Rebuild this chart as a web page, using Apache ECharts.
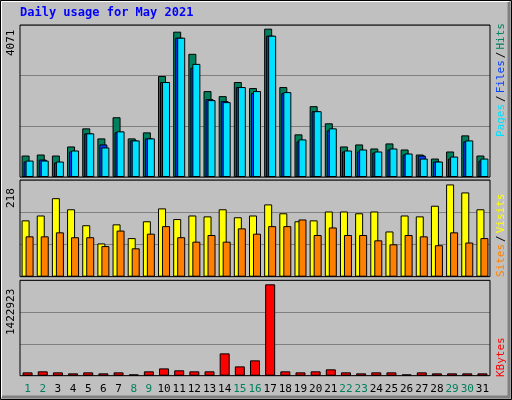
<!DOCTYPE html>
<html><head><meta charset="utf-8">
<script src="https://cdn.jsdelivr.net/npm/echarts@6/dist/echarts.min.js"></script>
<style>html,body{margin:0;padding:0;background:#C0C0C0}#c{width:512px;height:400px}</style>
</head><body><div id="c"></div>
<script>
const days=['1','2','3','4','5','6','7','8','9','10','11','12','13','14','15','16','17','18','19','20','21','22','23','24','25','26','27','28','29','30','31'];
const weekend=['1','2','8','9','15','16','22','23','29','30'];
const hits=[575,602,575,818,1303,1034,1600,1034,1195,2706,3892,3299,2301,2166,2544,2382,3973,2409,1142,1897,1438,818,872,764,899,737,602,494,683,1115,575];
const files=[414,467,387,683,1169,872,1195,980,1034,2544,3731,2922,2086,2032,2409,2248,3785,2248,953,1762,1250,683,683,656,737,602,575,414,494,953,440];
const pages=[440,440,414,710,1169,791,1223,980,1034,2544,3731,3030,2059,2005,2409,2301,3785,2274,1007,1762,1303,710,737,683,764,629,494,414,548,980,494];
const visits=[127,138,177,152,116,75,118,87,125,154,130,138,136,152,134,138,163,143,125,127,147,147,143,147,102,138,136,160,208,190,152];
const sites=[91,91,100,89,89,69,104,64,97,114,89,79,94,79,109,97,114,114,129,94,111,94,94,82,73,94,91,71,100,77,87];
const kbytes=[50000,65000,50000,35000,50000,35000,50000,20000,65000,109000,80000,65000,65000,333000,139000,229000,1363000,65000,50000,65000,95000,50000,35000,50000,50000,20000,50000,35000,35000,35000,35000];
const maxTop=4071, maxMid=218, maxBot=1422923;
const F='DejaVu Sans Mono';
const chart=echarts.init(document.getElementById('c'));
const grids=[{left:20,right:22,top:25,height:152},{left:20,right:22,top:180,height:96.7},{left:20,right:22,top:280.3,height:95.4}];
function xa(i){return {type:'category',gridIndex:i,data:days,axisLine:{show:false},axisTick:{show:false},
 axisLabel:i===2?{show:true,interval:0,hideOverlap:false,fontFamily:F,fontSize:11,margin:8,formatter:v=>weekend.includes(v)?'{g|'+v+'}':'{b|'+v+'}',rich:{g:{color:'#00805C',fontFamily:F,fontSize:11},b:{color:'#000',fontFamily:F,fontSize:11}}}:{show:false}};}
function ya(i,m){return {type:'value',gridIndex:i,min:0,max:m,interval:m/3,axisLabel:{show:false},axisLine:{show:false},axisTick:{show:false},splitLine:{show:true,lineStyle:{color:'#808080',width:1}}};}
const bs={borderColor:'#000',borderWidth:1};
function bar(name,data,i,color,w,gap){return {name,type:'bar',xAxisIndex:i,yAxisIndex:i,data,barWidth:w,barGap:gap,itemStyle:Object.assign({color},bs),silent:true,animation:false};}
const frames=grids.map(g=>({type:'rect',shape:{x:20,y:g.top,width:470,height:g.height},style:{fill:'none',stroke:'#000',lineWidth:1},z:100}));
chart.setOption({
 backgroundColor:'#C0C0C0',animation:false,
 grid:grids,
 xAxis:[xa(0),xa(1),xa(2)],
 yAxis:[ya(0,maxTop),ya(1,maxMid),ya(2,maxBot)],
 series:[
  bar('Hits',hits,0,'#00805C',8,'-75%'),
  bar('Files',files,0,'#0040FF',8,'-75%'),
  bar('Pages',pages,0,'#00E0FF',8,'-75%'),
  bar('Visits',visits,1,'#FFFF00',8,'-50%'),
  bar('Sites',sites,1,'#FF8000',8,'-50%'),
  bar('KBytes',kbytes,2,'#FF0000',10,'0%')
 ],
 graphic:[
  {type:'rect',shape:{x:0.5,y:0.5,width:511,height:399},style:{fill:'none',stroke:'#000',lineWidth:1},z:90},
  {type:'polyline',shape:{points:[[2,397],[509,397],[509,2]]},style:{fill:'none',stroke:'#808080',lineWidth:3},z:90},
  {type:'polyline',shape:{points:[[1.5,397],[1.5,1.5],[509,1.5]]},style:{fill:'none',stroke:'#fff',lineWidth:1},z:90},
  ...frames,
  {type:'text',left:20,top:7,style:{text:'Daily usage for May 2021',fill:'#0000FF',font:'bold 12px '+F},z:100},
  {type:'text',x:6,y:56,rotation:Math.PI/2,style:{text:String(maxTop),fill:'#000',font:'11px '+F},z:100},
  {type:'text',x:6,y:208,rotation:Math.PI/2,style:{text:String(maxMid),fill:'#000',font:'11px '+F},z:100},
  {type:'text',x:6,y:335,rotation:Math.PI/2,style:{text:String(maxBot),fill:'#000',font:'11px '+F},z:100},
  {type:'text',x:496,y:137,rotation:Math.PI/2,style:{text:'{p|Pages}{s|/}{f|Files}{s|/}{h|Hits}',font:'11px '+F,rich:{p:{fill:'#00E0FF',font:'11px '+F},f:{fill:'#0040FF',font:'11px '+F},h:{fill:'#00805C',font:'11px '+F},s:{fill:'#000',font:'11px '+F,padding:[0,2]}}},z:100},
  {type:'text',x:496,y:277,rotation:Math.PI/2,style:{text:'{a|Sites}{s|/}{b|Visits}',font:'11px '+F,rich:{a:{fill:'#FF8000',font:'11px '+F},b:{fill:'#FFFF00',font:'11px '+F},s:{fill:'#000',font:'11px '+F,padding:[0,2]}}},z:100},
  {type:'text',x:496,y:377,rotation:Math.PI/2,style:{text:'KBytes',fill:'#FF0000',font:'11px '+F},z:100}
 ]
});
</script></body></html>
